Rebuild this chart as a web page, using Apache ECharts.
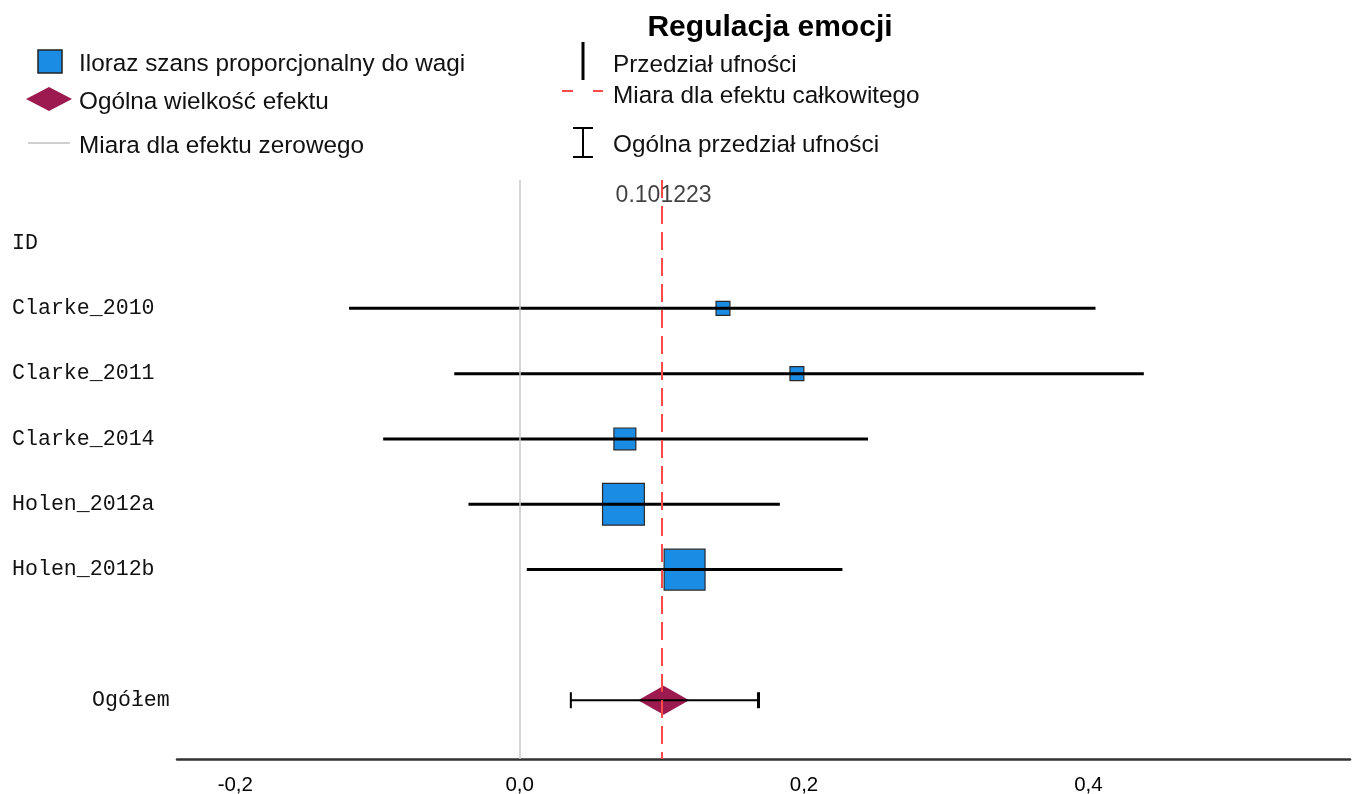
<!DOCTYPE html>
<html><head><meta charset="utf-8">
<script src="https://cdn.jsdelivr.net/npm/echarts@6/dist/echarts.min.js"></script>
<style>html,body{margin:0;padding:0;background:#fff}#c{width:1357px;height:794px}</style>
</head><body><div id="c"></div><script>
// ---- data ----
const studies = ['Clarke_2010', 'Clarke_2011', 'Clarke_2014', 'Holen_2012a', 'Holen_2012b'];
const effect = [0.143, 0.195, 0.074, 0.073, 0.116];
const lower = [-0.120, -0.046, -0.096, -0.036, 0.005];
const upper = [0.405, 0.439, 0.245, 0.183, 0.227];
const weights = [4.5, 4.5, 11.2, 40.8, 39.0];
const idHeader = 'ID';
const overallLabel = 'Ogółem';
const overall = 0.101223;
const overallLower = 0.036;
const overallUpper = 0.168;
const xTicks = [-0.2, 0.0, 0.2, 0.4];
const titleText = 'Regulacja emocji';
const legendTexts = ['Iloraz szans proporcjonalny do wagi', 'Ogólna wielkość efektu', 'Miara dla efektu zerowego',
  'Przedział ufności', 'Miara dla efektu całkowitego', 'Ogólna przedział ufności'];

// row layout: header row 0, studies 1..n, blank, overall
const overallRow = studies.length + 2;
const rowNames = {0: idHeader};
studies.forEach((s, i) => rowNames[i + 1] = s);
rowNames[overallRow] = overallLabel;
const rowValues = Object.keys(rowNames).map(Number);

const SANS = '"Liberation Sans", Arial, sans-serif';
const MONO = '"Liberation Mono", "Courier New", monospace';
const BLUE = '#1a8ce3';
const MAROON = '#9c1a4f';
const RED = '#ff4a4a';
const LEG_FONT = '24.3px ' + SANS;

const chart = echarts.init(document.getElementById('c'), null, {renderer: 'canvas'});

const studyData = studies.map((s, i) => [effect[i], i + 1, lower[i], upper[i], weights[i]]);

const option = {
  animation: false,
  backgroundColor: '#fff',
  title: {
    text: titleText, left: 765, top: 8, textAlign: 'center',
    textStyle: {fontFamily: SANS, fontWeight: 'bold', fontSize: 30, color: '#000'}
  },
  grid: {left: 177, right: 7, top: 180, bottom: 35, outerBoundsMode: 'none', containLabel: false},
  xAxis: {
    type: 'value', min: -0.241, max: 0.584,
    axisLine: {show: true, onZero: false, lineStyle: {color: '#333', width: 2.5}},
    axisTick: {show: false},
    splitLine: {show: false},
    axisLabel: {
      customValues: xTicks, margin: 16, color: '#000', fontFamily: SANS, fontSize: 20.5,
      formatter: v => v.toFixed(1).replace('.', ',')
    }
  },
  yAxis: {
    type: 'value', inverse: true, min: -0.965, max: 7.9,
    axisLine: {show: false}, axisTick: {show: false}, splitLine: {show: false},
    axisLabel: {
      customValues: rowValues, align: 'left', margin: 165,
      formatter: v => rowNames[v] === overallLabel ? '{tot|' + rowNames[v] + '}' : '{id|' + rowNames[v] + '}',
      rich: {
        id: {fontFamily: MONO, fontSize: 21.6, color: '#111'},
        tot: {fontFamily: MONO, fontSize: 21.6, color: '#111', padding: [0, 0, 0, 80]}
      }
    }
  },
  series: [
    { // reference lines
      type: 'scatter', data: [], silent: true,
      markLine: {
        silent: true, symbol: 'none', animation: false,
        data: [
          {xAxis: 0, lineStyle: {color: '#c8c8c8', width: 1.5, type: 'solid'}, label: {show: false}},
          {xAxis: overall, lineStyle: {color: RED, width: 2, type: [18, 8]}, label: {show: false}}
        ]
      },
      z: 1
    },
    { // overall value label
      type: 'scatter', silent: true, symbolSize: 0,
      data: [[overall, -0.72]],
      label: {show: true, position: 'inside', formatter: String(overall), fontFamily: SANS, fontSize: 23, color: '#111'},
      z: 5
    },
    { // weighted squares
      type: 'scatter', symbol: 'rect',
      data: studyData,
      symbolSize: d => Math.sqrt(d[4]) * 6.55,
      itemStyle: {color: BLUE, borderColor: '#2a2a2a', borderWidth: 1.2, opacity: 1},
      z: 3
    },
    { // study CIs
      type: 'custom', data: studyData, z: 4,
      renderItem: (params, api) => {
        const a = api.coord([api.value(2), api.value(1)]);
        const b = api.coord([api.value(3), api.value(1)]);
        return {type: 'line', shape: {x1: a[0], y1: a[1], x2: b[0], y2: b[1]}, style: {stroke: '#000', lineWidth: 3}};
      }
    },
    { // overall diamond
      type: 'scatter', symbol: 'diamond', symbolSize: [51, 29],
      data: [[overall, overallRow]],
      itemStyle: {color: MAROON, opacity: 1}, z: 3
    },
    { // overall CI with caps
      type: 'custom', data: [[overall, overallRow, overallLower, overallUpper]], z: 4,
      renderItem: (params, api) => {
        const a = api.coord([api.value(2), api.value(1)]);
        const b = api.coord([api.value(3), api.value(1)]);
        const h = 8;
        return {type: 'group', children: [
          {type: 'line', shape: {x1: a[0], y1: a[1], x2: b[0], y2: b[1]}, style: {stroke: '#000', lineWidth: 2}},
          {type: 'line', shape: {x1: a[0], y1: a[1] - h, x2: a[0], y2: a[1] + h}, style: {stroke: '#000', lineWidth: 2}},
          {type: 'line', shape: {x1: b[0], y1: b[1] - h, x2: b[0], y2: b[1] + h}, style: {stroke: '#000', lineWidth: 3}}
        ]};
      }
    }
  ],
  graphic: [
    // legend, left column
    {type: 'rect', shape: {x: 38, y: 50, width: 24, height: 23}, style: {fill: BLUE, stroke: '#222', lineWidth: 1.5}},
    {type: 'polygon', shape: {points: [[26, 99], [49, 87], [72, 99], [49, 111]]}, style: {fill: MAROON}},
    {type: 'line', shape: {x1: 28, y1: 143, x2: 70, y2: 143}, style: {stroke: '#d0d0d0', lineWidth: 2}},
    {type: 'text', x: 79, y: 64, style: {text: legendTexts[0], font: LEG_FONT, fill: '#111', verticalAlign: 'middle'}},
    {type: 'text', x: 79, y: 102, style: {text: legendTexts[1], font: LEG_FONT, fill: '#111', verticalAlign: 'middle'}},
    {type: 'text', x: 79, y: 146, style: {text: legendTexts[2], font: LEG_FONT, fill: '#111', verticalAlign: 'middle'}},
    // legend, right column
    {type: 'line', shape: {x1: 583, y1: 42, x2: 583, y2: 80}, style: {stroke: '#000', lineWidth: 3}},
    {type: 'line', shape: {x1: 562, y1: 91, x2: 573, y2: 91}, style: {stroke: RED, lineWidth: 2}},
    {type: 'line', shape: {x1: 593, y1: 91, x2: 603, y2: 91}, style: {stroke: RED, lineWidth: 2}},
    {type: 'line', shape: {x1: 583, y1: 128, x2: 583, y2: 157}, style: {stroke: '#000', lineWidth: 2}},
    {type: 'line', shape: {x1: 573, y1: 128, x2: 593, y2: 128}, style: {stroke: '#000', lineWidth: 2}},
    {type: 'line', shape: {x1: 573, y1: 157, x2: 593, y2: 157}, style: {stroke: '#000', lineWidth: 2}},
    {type: 'text', x: 613, y: 65, style: {text: legendTexts[3], font: LEG_FONT, fill: '#111', verticalAlign: 'middle'}},
    {type: 'text', x: 613, y: 96, style: {text: legendTexts[4], font: LEG_FONT, fill: '#111', verticalAlign: 'middle'}},
    {type: 'text', x: 613, y: 145, style: {text: legendTexts[5], font: LEG_FONT, fill: '#111', verticalAlign: 'middle'}}
  ]
};
chart.setOption(option);
</script></body></html>
